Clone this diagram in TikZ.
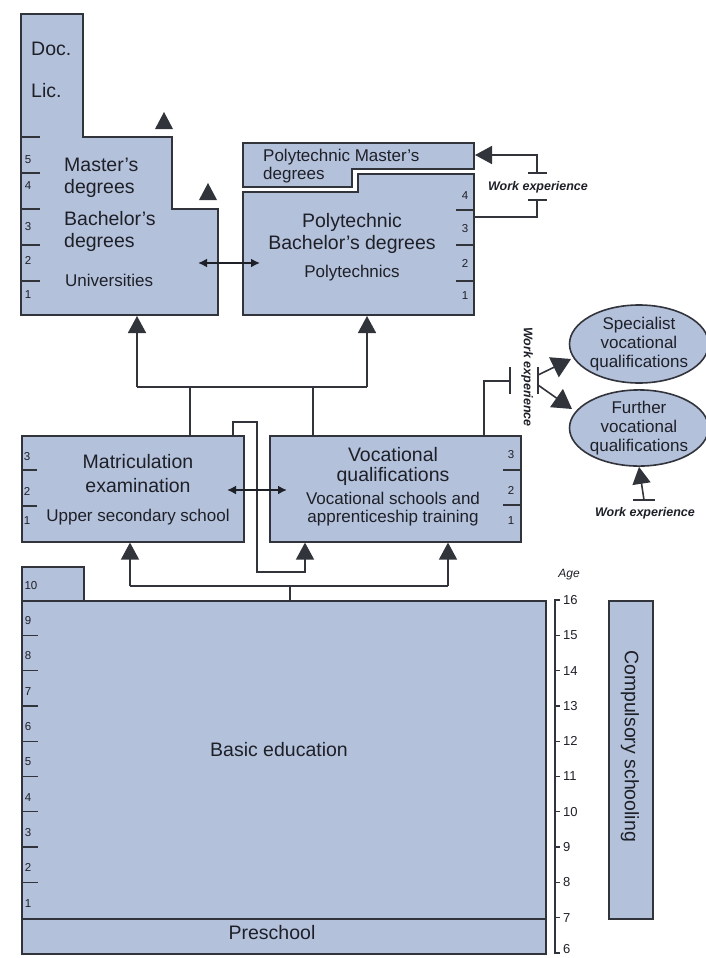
\documentclass[tikz,border=0pt]{standalone}
\usepackage{fontspec}
\setmainfont{Liberation Sans}
\usetikzlibrary{arrows.meta,shapes.geometric}
\definecolor{boxfill}{RGB}{180,193,219}
\definecolor{edge}{RGB}{50,52,60}
\definecolor{ink}{RGB}{30,32,40}
\tikzset{
  box/.style={draw=edge, fill=boxfill, line width=1.6pt, inner sep=0pt},
  conn/.style={draw=edge, line width=1.6pt},
  tickline/.style={draw=edge, line width=1.3pt},
  bigarrow/.style={-{Triangle[width=18pt,length=17pt]}},
  hugearrow/.style={-{Triangle[width=22pt,length=19pt]}},
  dblarrow/.style={{Latex[length=9pt,width=9pt]}-{Latex[length=9pt,width=9pt]}, draw=ink, line width=2pt},
  bigtxt/.style={font=\fontsize{19.5}{22}\selectfont, text=ink, inner sep=0pt},
  midtxt/.style={font=\fontsize{17}{19}\selectfont, text=ink, inner sep=0pt},
  numtxt/.style={font=\fontsize{11.5}{12}\selectfont, text=ink, inner sep=0pt},
  agetxt/.style={font=\fontsize{13}{14}\selectfont, text=ink, inner sep=0pt},
  wexp/.style={font=\fontsize{12.5}{14}\selectfont\bfseries\itshape, text=ink, inner sep=0pt},
}
\begin{document}
\begin{tikzpicture}[x=1pt,y=-1pt]
\useasboundingbox (0,0) rectangle (705,958);

% ---------- Universities ----------
\draw[box] (21,14) -- (83,14) -- (83,137) -- (172,137) -- (172,209) -- (218,209) -- (218,315) -- (21,315) -- cycle;
\foreach \y in {137,173,209,245,281} \draw[tickline] (21,\y) -- (40,\y);
\node[numtxt] (u5) at (28,160) {5};
\node[numtxt] (u4) at (28,186) {4};
\node[numtxt] (u3) at (28,227) {3};
\node[numtxt] (u2) at (28,260) {2};
\node[numtxt] (u1) at (28,295) {1};
\node[bigtxt, anchor=west] (doc) at (31,49) {Doc.};
\node[bigtxt, anchor=west] (lic) at (31,91) {Lic.};
\node[bigtxt, anchor=west, align=left] (master) at (64,178) {Master's\\degrees};
\node[bigtxt, anchor=west, align=left] (bachelor) at (64,231) {Bachelor's\\degrees};
\node[midtxt, anchor=west] (univ) at (65,280) {Universities};
\fill[edge] (155,129) -- (173,129) -- (164,112) -- cycle;
\fill[edge] (199,200) -- (217,200) -- (208,183) -- cycle;
\coordinate (unibot) at (137,316);
\coordinate (uniright) at (198,263);

% ---------- Polytechnics ----------
\draw[box] (243,143) -- (474,143) -- (474,169) -- (352,169) -- (352,187) -- (243,187) -- cycle;
\draw[box] (243,192) -- (358,192) -- (358,174) -- (474,174) -- (474,315) -- (243,315) -- cycle;
\foreach \y in {210,245,281} \draw[tickline] (456,\y) -- (474,\y);
\node[numtxt] (p4) at (465,196) {4};
\node[numtxt] (p3) at (465,229) {3};
\node[numtxt] (p2) at (465,263) {2};
\node[numtxt] (p1) at (465,296) {1};
\node[font=\fontsize{17}{18}\selectfont, text=ink, inner sep=0pt, anchor=west, align=left] (pmaster) at (263,166) {Polytechnic Master's\\degrees};
\node[bigtxt, align=center] (pbach) at (352,233) {Polytechnic\\Bachelor's degrees};
\node[midtxt] (poly) at (352,273) {Polytechnics};
\coordinate (polybot) at (367,316);
\coordinate (polyleft) at (260,263);
\coordinate (pmright) at (475,155);
\coordinate (pbright) at (474,217);

\draw[dblarrow] (uniright) -- (polyleft);

% work experience (top)
\coordinate (wt1) at (537,173);
\coordinate (wt2) at (537,200);
\draw[conn, bigarrow] (wt1) -- (537,155) -- (pmright);
\draw[conn] (528,173) -- (547,173);
\draw[conn] (528,200) -- (547,200);
\draw[conn] (wt2) -- (537,217) -- (pbright);
\node[wexp] (wexptop) at (538,187) {Work experience};

% ---------- Upper secondary ----------
\node[box, anchor=north west, minimum width=222pt, minimum height=106pt] (matric) at (21,435) {};
\node[box, anchor=north west, minimum width=251pt, minimum height=106pt] (voc) at (269,435) {};
\foreach \y in {470,506} \draw[tickline] (21,\y) -- (37,\y);
\foreach \y in {470,505} \draw[tickline] (503,\y) -- (520,\y);
\node[numtxt] (m3) at (27,457) {3};
\node[numtxt] (m2) at (27,491) {2};
\node[numtxt] (m1) at (27,521) {1};
\node[numtxt] (v3) at (511,455) {3};
\node[numtxt] (v2) at (511,490) {2};
\node[numtxt] (v1) at (511,521) {1};
\node[font=\fontsize{19.5}{24}\selectfont, text=ink, inner sep=0pt, align=center] (matexam) at (138,474) {Matriculation\\examination};
\node[midtxt] (uss) at (138,517) {Upper secondary school};
\node[font=\fontsize{19.5}{20}\selectfont, text=ink, inner sep=0pt, align=center] (vocq) at (393,466) {Vocational\\qualifications};
\node[font=\fontsize{17}{18}\selectfont, text=ink, inner sep=0pt, align=center] (vocs) at (393,509) {Vocational schools and\\apprenticeship training};

% connectors upward to higher education
\draw[conn] (137,387) -- (367,387);
\draw[conn] (matric.north -| 190,0) -- (190,387);
\draw[conn] (voc.north -| 313,0) -- (313,387);
\draw[conn, bigarrow] (137,387) -- (unibot);
\draw[conn, bigarrow] (367,387) -- (polybot);

% loop from matriculation to vocational
\draw[conn, bigarrow] (matric.north -| 233,0) -- (233,422) -- (257,422) -- (257,572) -- (305,572) -- (voc.south -| 305,0);
\draw[dblarrow, line width=2.4pt] (227,490) -- (287,490);

% vocational -> work experience -> further/specialist
\draw[conn] (voc.north -| 484,0) -- (484,381) -- (510,381);
\draw[conn] (510,367) -- (510,394);
\draw[conn] (538,367) -- (538,394);
\node[wexp, rotate=-90] (wexpmid) at (527,377) {Work experience};
\node[box, ellipse, minimum width=132pt, minimum height=78pt, align=center, font=\fontsize{17}{19}\selectfont, text=ink] (spec) at (639,344) {Specialist\\vocational\\qualifications};
\node[box, ellipse, minimum width=132pt, minimum height=76pt, align=center, font=\fontsize{17}{19}\selectfont, text=ink] (further) at (639,428) {Further\\vocational\\qualifications};
\draw[conn, hugearrow] (538,375) -- (571,359);
\draw[conn, hugearrow] (538,385) -- (572,409);

% work experience (bottom right)
\coordinate (wbot) at (644,500);
\draw[conn, bigarrow] (wbot) -- (further.south);
\draw[conn] (633,500) -- (655,500);
\node[wexp] (wexpbot) at (645,513) {Work experience};

% ---------- Basic education ----------
\node[box, anchor=north west, minimum width=62pt, minimum height=34pt] (ten) at (21,566) {};
\node[box, anchor=north west, minimum width=524pt, minimum height=318pt] (basic) at (21,600) {};
\node[box, anchor=north west, minimum width=524pt, minimum height=35pt] (pre) at (21,918) {};
\node[numtxt] (g10) at (31,586) {10};
\foreach \k in {1,...,9} {
  \pgfmathsetmacro{\ytop}{600+(16-(6+\k))*35.3}
  \pgfmathsetmacro{\ybot}{600+(16-(7+\k))*35.3}
  \node[numtxt] (g\k) at (28,{(\ytop+\ybot)/2+3}) {\k};
}
\foreach \a in {8,...,15} \draw[tickline] (21,{600+(16-\a)*35.3}) -- (38,{600+(16-\a)*35.3});
\node[bigtxt] (basictxt) at (279,750) {Basic education};
\node[bigtxt] (pretxt) at (272,933) {Preschool};

% connectors from basic education
\draw[conn] (130,586) -- (448,586);
\draw[conn] (basic.north -| 290,0) -- (290,586);
\draw[conn, bigarrow] (130,586) -- (matric.south -| 130,0);
\draw[conn, bigarrow] (448,586) -- (voc.south -| 448,0);

% ---------- Age axis ----------
\draw[draw=edge, line width=1.3pt] (560,600) -- (555,600) -- (555,953) -- (560,953);
\foreach \a in {7,...,15} \draw[draw=edge, line width=1.3pt] (555,{600+(16-\a)*35.3}) -- (560,{600+(16-\a)*35.3});
\foreach \a in {7,...,16} \node[agetxt, anchor=west] (age\a) at (563,{600+(16-\a)*35.3}) {\a};
\node[agetxt, anchor=west] (age6) at (563,949) {6};
\node[font=\fontsize{12}{13}\selectfont\itshape, text=ink, inner sep=0pt] (agelabel) at (569,575) {Age};

% ---------- Compulsory schooling ----------
\node[box, anchor=north west, minimum width=44pt, minimum height=318pt] (comp) at (608,600) {};
\node[bigtxt, rotate=-90] (comptxt) at (630,746) {Compulsory schooling};
\end{tikzpicture}
\end{document}
